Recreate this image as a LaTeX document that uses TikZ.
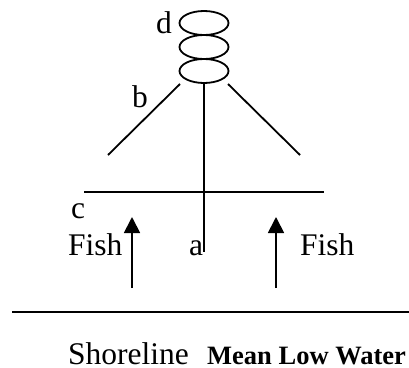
\documentclass[tikz,border=0pt]{standalone}
\usepackage{fontspec}
\setmainfont{Liberation Serif}
\usetikzlibrary{arrows.meta,shapes.geometric}
\tikzset{
  x=1pt,y=-1pt,
  ln/.style={line width=1.8pt,line cap=butt},
  coil/.style={ellipse,draw,line width=1.8pt,minimum width=49pt,minimum height=24pt,inner sep=0pt},
  lab/.style={inner sep=0pt,anchor=base west,font=\fontsize{31.5}{31.5}\selectfont},
  arr/.style={line width=1.8pt,-{Triangle[length=16pt,width=16pt]}}
}
\begin{document}
\begin{tikzpicture}
\useasboundingbox (0,0) rectangle (409,367);
\node[coil] (e1) at (204,23) {};
\node[coil] (e2) at (204,47) {};
\node[coil] (e3) at (204,71) {};
\coordinate (bl) at (108,155);
\coordinate (br) at (300,155);
\coordinate (c) at (204,252);
\coordinate (el) at (180,84);
\coordinate (er) at (228,84);
\coordinate (hl) at (84,192);
\coordinate (hr) at (324,192);
\coordinate (sl) at (12,312);
\coordinate (sr) at (409,312);
\coordinate (a1s) at (132,288);
\coordinate (a1e) at (132,217);
\coordinate (a2s) at (276,288);
\coordinate (a2e) at (276,217);
\draw[ln] (el) -- (bl);
\draw[ln] (er) -- (br);
\draw[ln] (e3.south) -- (c);
\draw[ln] (hl) -- (hr);
\draw[ln] (sl) -- (sr);
\draw[arr] (a1s) -- (a1e);
\draw[arr] (a2s) -- (a2e);
\node[lab] (d) at (156,33) {d};
\node[lab] (b) at (132,107) {b};
\node[lab] (cc) at (71,218) {c};
\node[lab] (f1) at (68,255) {Fish};
\node[lab] (a) at (189,255) {a};
\node[lab] (f2) at (300,255) {Fish};
\node[lab] (s) at (68,364) {Shoreline};
\node[lab,font=\fontsize{26.5}{26.5}\selectfont\bfseries] (m) at (207,364) {Mean Low Water};
\end{tikzpicture}
\end{document}
